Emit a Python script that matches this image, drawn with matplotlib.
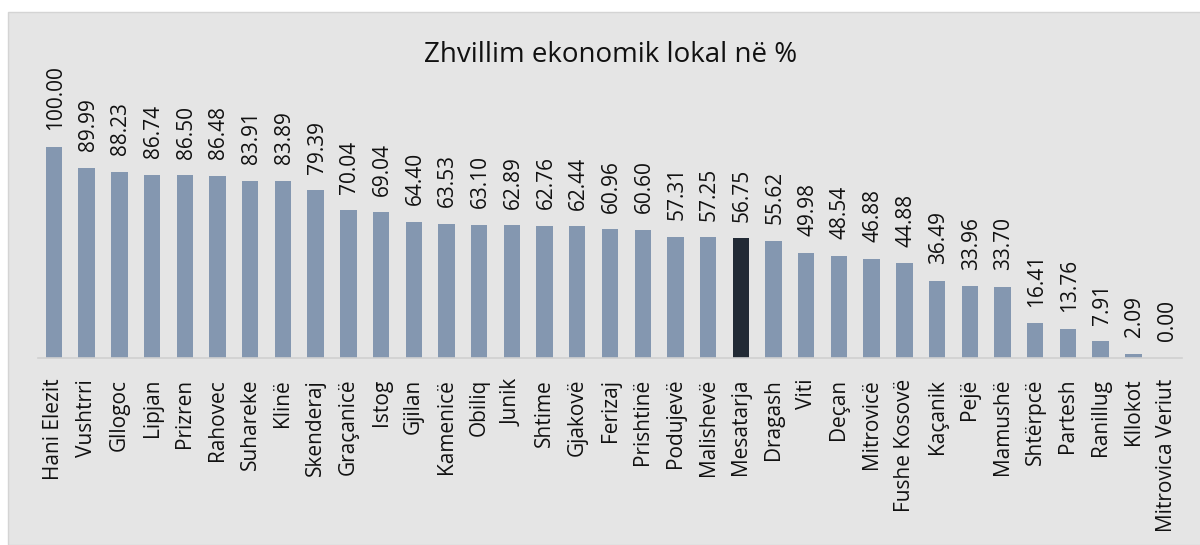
import matplotlib.pyplot as plt
from matplotlib.patches import Rectangle

plt.rcParams['font.family'] = ['Open Sans', 'DejaVu Sans']

komunat = ["Hani Elezit", "Vushtrri", "Gllogoc", "Lipjan", "Prizren", "Rahovec",
           "Suhareke", "Klinë", "Skenderaj", "Graçanicë", "Istog", "Gjilan",
           "Kamenicë", "Obiliq", "Junik", "Shtime", "Gjakovë", "Ferizaj",
           "Prishtinë", "Podujevë", "Malishevë", "Mesatarja", "Dragash", "Viti",
           "Deçan", "Mitrovicë", "Fushe Kosovë", "Kaçanik", "Pejë", "Mamushë",
           "Shtërpcë", "Partesh", "Ranillug", "Kllokot", "Mitrovica Veriut"]
vlerat = [100.00, 89.99, 88.23, 86.74, 86.50, 86.48, 83.91, 83.89, 79.39, 70.04,
          69.04, 64.40, 63.53, 63.10, 62.89, 62.76, 62.44, 60.96, 60.60, 57.31,
          57.25, 56.75, 55.62, 49.98, 48.54, 46.88, 44.88, 36.49, 33.96, 33.70,
          16.41, 13.76, 7.91, 2.09, 0.00]

W, H = 1200, 545
fig = plt.figure(figsize=(W / 100, H / 100), dpi=100)
fig.patch.set_facecolor('white')

# grey chart area with thin border
bg = Rectangle((8 / W, 0), 1, 1 - 12 / H, transform=fig.transFigure,
               facecolor='#e5e5e5', edgecolor='#d4d4d4', linewidth=1.0, zorder=-10)
fig.patches.append(bg)

base_y = 358
top_y = 147
left_x = 37.6
right_x = 1182.4
ax = fig.add_axes([left_x / W, (H - base_y) / H, (right_x - left_x) / W, (base_y - top_y) / H])
ax.set_facecolor('none')

ngjyrat = ['#222a35' if k == "Mesatarja" else '#8497b0' for k in komunat]
x = range(len(komunat))
ax.bar(x, vlerat, width=0.5, color=ngjyrat, zorder=2)

for i, v in zip(x, vlerat):
    ax.annotate(f"{v:.2f}", (i, v), xytext=(1, 12), textcoords='offset points',
                rotation=90, ha='center', va='bottom', fontsize=15, color='#111111',
                annotation_clip=False)

ax.set_xlim(-0.5, len(komunat) - 0.5)
ax.set_ylim(0, 100)
ax.set_xticks(list(x))
ax.set_xticklabels(komunat, rotation=90, fontsize=15, color='#111111')
ax.tick_params(axis='x', length=0, pad=15)
ax.set_yticks([])
for s in ['top', 'right', 'left']:
    ax.spines[s].set_visible(False)
ax.spines['bottom'].set_color('#d0d0d0')
ax.spines['bottom'].set_linewidth(1.2)

fig.text(611 / W, 1 - 55 / H, "Zhvillim ekonomik lokal në %", ha='center', va='center',
         fontsize=20, color='#111111')

fig.savefig('out.png', dpi=100)
